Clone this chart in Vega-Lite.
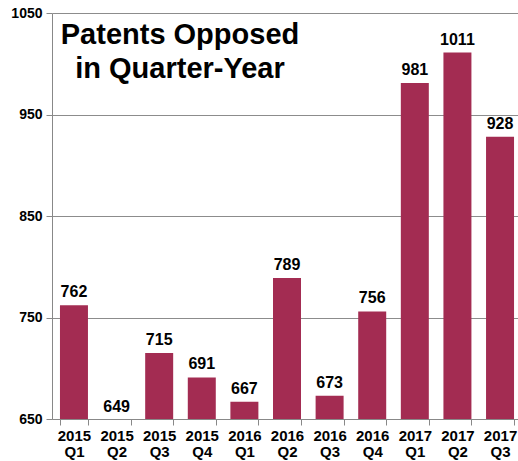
{
  "$schema": "https://vega.github.io/schema/vega-lite/v6.json",
  "width": 470,
  "height": 406,
  "autosize": "none",
  "padding": {"left": 52, "right": 0, "top": 13, "bottom": 42},
  "background": "white",
  "config": {
    "font": "Liberation Sans",
    "view": {"stroke": null}
  },
  "title": {
    "text": ["Patents Opposed", "in Quarter-Year"],
    "anchor": "start",
    "frame": "group",
    "align": "center",
    "dx": 128,
    "offset": -78,
    "fontSize": 29,
    "fontWeight": "bold",
    "font": "Liberation Sans",
    "color": "black",
    "lineHeight": 34
  },
  "data": {
    "values": [
      {"q": "2015 Q1", "v": 762},
      {"q": "2015 Q2", "v": 649},
      {"q": "2015 Q3", "v": 715},
      {"q": "2015 Q4", "v": 691},
      {"q": "2016 Q1", "v": 667},
      {"q": "2016 Q2", "v": 789},
      {"q": "2016 Q3", "v": 673},
      {"q": "2016 Q4", "v": 756},
      {"q": "2017 Q1", "v": 981},
      {"q": "2017 Q2", "v": 1011},
      {"q": "2017 Q3", "v": 928}
    ]
  },
  "encoding": {
    "x": {
      "field": "q",
      "type": "nominal",
      "sort": null,
      "scale": {"paddingInner": 0.343, "paddingOuter": 0.187},
      "axis": {
        "title": null,
        "labelAngle": 0,
        "labelExpr": "datum.value ? split(datum.value, ' ') : ''",
        "labelFontSize": 15,
        "labelFontWeight": "bold",
        "labelColor": "black",
        "labelLineHeight": 16,
        "labelPadding": 3,
        "tickBand": "extent",
        "tickSize": 6,
        "tickColor": "#888888",
        "domainColor": "#888888",
        "grid": false
      }
    },
    "y": {
      "field": "v",
      "type": "quantitative",
      "scale": {"domain": [650, 1050], "nice": false, "zero": false},
      "axis": {
        "title": null,
        "values": [650, 750, 850, 950, 1050],
        "format": "d",
        "labelFontSize": 14,
        "labelFontWeight": "bold",
        "labelColor": "black",
        "labelPadding": 4,
        "tickSize": 6,
        "tickColor": "#888888",
        "domainColor": "#888888",
        "gridColor": "#8c8c8c",
        "gridWidth": 1
      }
    }
  },
  "layer": [
    {
      "mark": {"type": "bar", "color": "#A32C52", "clip": true},
      "encoding": {}
    },
    {
      "mark": {"type": "text", "baseline": "bottom", "dy": -5, "fontSize": 16, "fontWeight": "bold", "color": "black"},
      "encoding": {"text": {"field": "v", "type": "quantitative"}}
    }
  ]
}
